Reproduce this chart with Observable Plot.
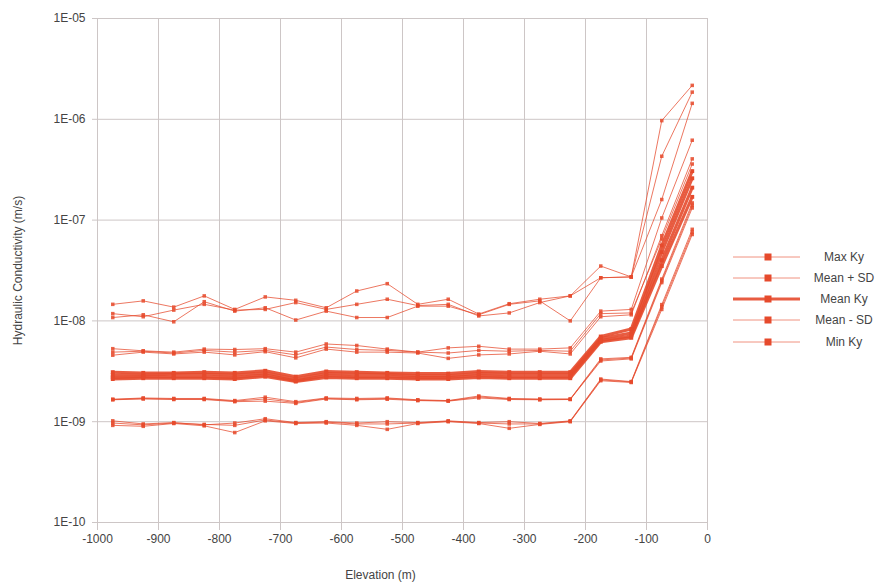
<!DOCTYPE html>
<html><head><meta charset="utf-8">
<script src="https://cdn.jsdelivr.net/npm/d3@7"></script>
<script src="https://cdn.jsdelivr.net/npm/@observablehq/plot@0.6"></script>
<style>
body{margin:0;background:#fff;font-family:"Liberation Sans",Arial,sans-serif;}
#wrap{position:relative;width:881px;height:586px;overflow:hidden;}
#legend{position:absolute;left:733px;top:246px;}
</style></head><body><div id="wrap"><div id="chart"></div><div id="legend"></div></div>
<script>
// Elevation (m) of each sample point
const elevation = [-975,-925,-875,-825,-775,-725,-675,-625,-575,-525,-475,-425,-375,-325,-275,-225,-175,-125,-75,-25];

// Max Ky lines
const maxKy1 = [1.46e-8,1.58e-8,1.37e-8,1.77e-8,1.3e-8,1.73e-8,1.6e-8,1.35e-8,1.98e-8,2.34e-8,1.46e-8,1.64e-8,1.17e-8,1.48e-8,1.64e-8,1.77e-8,3.5e-8,2.73e-8,9.7e-7,2.17e-6];
const maxKy2 = [1.18e-8,1.1e-8,1.28e-8,1.46e-8,1.28e-8,1.3e-8,1.52e-8,1.3e-8,1.46e-8,1.64e-8,1.42e-8,1.46e-8,1.12e-8,1.2e-8,1.52e-8,1.77e-8,2.68e-8,2.73e-8,4.3e-7,1.86e-6];
const maxKy3 = [1.08e-8,1.15e-8,0.98e-8,1.55e-8,1.25e-8,1.35e-8,1.02e-8,1.25e-8,1.08e-8,1.08e-8,1.4e-8,1.4e-8,1.15e-8,1.46e-8,1.58e-8,1.0e-8,2.68e-8,2.73e-8,1.6e-7,1.44e-6];

// Mean + SD lines
const meanPlusSD1 = [5.3e-9,5.05e-9,4.9e-9,5.25e-9,5.2e-9,5.3e-9,4.9e-9,5.9e-9,5.7e-9,5.25e-9,4.9e-9,5.4e-9,5.6e-9,5.25e-9,5.25e-9,5.4e-9,1.25e-8,1.3e-8,1.05e-7,6.2e-7];
const meanPlusSD2 = [4.57e-9,4.9e-9,4.7e-9,4.9e-9,4.6e-9,4.95e-9,4.3e-9,5.25e-9,4.9e-9,4.9e-9,4.8e-9,4.25e-9,4.6e-9,4.7e-9,5.0e-9,4.7e-9,1.1e-8,1.15e-8,7.0e-8,4.05e-7];
const meanPlusSD3 = [4.9e-9,5.0e-9,4.8e-9,5.1e-9,4.9e-9,5.1e-9,4.6e-9,5.5e-9,5.2e-9,5.1e-9,4.9e-9,4.8e-9,5.1e-9,5.0e-9,5.1e-9,5.0e-9,1.18e-8,1.2e-8,6.5e-8,3.6e-7];

// Mean Ky lines
const meanKy1 = [3.1e-9,3.05e-9,3.05e-9,3.1e-9,3.05e-9,3.2e-9,2.8e-9,3.15e-9,3.1e-9,3.05e-9,3.0e-9,3.0e-9,3.15e-9,3.1e-9,3.1e-9,3.1e-9,7.0e-9,8.3e-9,5.6e-8,3.06e-7];
const meanKy2 = [2.9e-9,2.9e-9,2.95e-9,2.95e-9,2.9e-9,3.05e-9,2.65e-9,3.0e-9,2.95e-9,2.95e-9,2.85e-9,2.85e-9,3.0e-9,2.95e-9,2.95e-9,2.95e-9,6.7e-9,7.6e-9,4.8e-8,2.6e-7];
const meanKy3 = [2.75e-9,2.8e-9,2.8e-9,2.8e-9,2.75e-9,2.9e-9,2.55e-9,2.85e-9,2.8e-9,2.8e-9,2.75e-9,2.75e-9,2.85e-9,2.8e-9,2.8e-9,2.8e-9,6.4e-9,7.1e-9,4.0e-8,2.1e-7];
const meanKy4 = [2.65e-9,2.7e-9,2.7e-9,2.7e-9,2.65e-9,2.8e-9,2.5e-9,2.75e-9,2.7e-9,2.7e-9,2.65e-9,2.65e-9,2.75e-9,2.7e-9,2.7e-9,2.7e-9,6.2e-9,6.8e-9,3.5e-8,1.7e-7];

// Mean - SD lines
const meanMinusSD1 = [1.67e-9,1.72e-9,1.7e-9,1.7e-9,1.62e-9,1.75e-9,1.58e-9,1.72e-9,1.7e-9,1.72e-9,1.65e-9,1.62e-9,1.8e-9,1.7e-9,1.68e-9,1.68e-9,4.2e-9,4.35e-9,2.6e-8,1.48e-7];
const meanMinusSD2 = [1.65e-9,1.68e-9,1.66e-9,1.66e-9,1.58e-9,1.6e-9,1.52e-9,1.68e-9,1.65e-9,1.67e-9,1.62e-9,1.6e-9,1.72e-9,1.66e-9,1.65e-9,1.66e-9,4.0e-9,4.2e-9,2.4e-8,1.32e-7];
const meanMinusSD3 = [1.66e-9,1.7e-9,1.68e-9,1.68e-9,1.6e-9,1.68e-9,1.55e-9,1.7e-9,1.67e-9,1.7e-9,1.63e-9,1.61e-9,1.76e-9,1.68e-9,1.66e-9,1.67e-9,4.1e-9,4.28e-9,2.5e-8,1.4e-7];

// Min Ky lines
const minKy1 = [1.02e-9,0.95e-9,0.98e-9,0.93e-9,0.97e-9,1.07e-9,0.98e-9,1.0e-9,0.97e-9,1.0e-9,0.98e-9,1.02e-9,0.98e-9,1.0e-9,0.96e-9,1.02e-9,2.65e-9,2.5e-9,1.45e-8,8.1e-8];
const minKy2 = [0.92e-9,0.9e-9,0.96e-9,0.91e-9,0.78e-9,1.02e-9,0.96e-9,0.97e-9,0.92e-9,0.84e-9,0.96e-9,1.0e-9,0.96e-9,0.86e-9,0.94e-9,1.0e-9,2.55e-9,2.45e-9,1.3e-8,7.2e-8];
const minKy3 = [0.97e-9,0.93e-9,0.97e-9,0.94e-9,0.92e-9,1.04e-9,0.97e-9,0.99e-9,0.95e-9,0.95e-9,0.97e-9,1.01e-9,0.97e-9,0.95e-9,0.95e-9,1.01e-9,2.6e-9,2.48e-9,1.38e-8,7.6e-8];

// Legend labels and ticks
const legendLabels = ["Max Ky", "Mean + SD", "Mean Ky", "Mean - SD", "Min Ky"];
const xTicks = [-1000,-900,-800,-700,-600,-500,-400,-300,-200,-100,0];
const yTicks = [1e-10,1e-9,1e-8,1e-7,1e-6,1e-5];

const series = [
  ["Max Ky", maxKy1], ["Max Ky", maxKy2], ["Max Ky", maxKy3],
  ["Mean + SD", meanPlusSD1], ["Mean + SD", meanPlusSD2], ["Mean + SD", meanPlusSD3],
  ["Mean - SD", meanMinusSD1], ["Mean - SD", meanMinusSD2], ["Mean - SD", meanMinusSD3],
  ["Min Ky", minKy1], ["Min Ky", minKy2], ["Min Ky", minKy3],
  ["Mean Ky", meanKy1], ["Mean Ky", meanKy2], ["Mean Ky", meanKy3], ["Mean Ky", meanKy4]
];
const rows = series.flatMap(([group, vals], i) => vals.map((v, j) => ({id: i, group, x: elevation[j], y: v})));
const thin = rows.filter(d => d.group !== "Mean Ky");
const thick = rows.filter(d => d.group === "Mean Ky");

const RED = "#e64a2c";
const GRID = "#cdc6c6";
const fmtY = d => { const e = Math.round(Math.log10(d)); return "1E" + (e < 0 ? "-" : "+") + String(Math.abs(e)).padStart(2, "0"); };

const chart = Plot.plot({
  width: 881, height: 586,
  marginLeft: 97, marginRight: 174, marginTop: 18, marginBottom: 64,
  style: {fontFamily: "'Liberation Sans', Arial, sans-serif", fontSize: "12px", background: "white", overflow: "visible"},
  x: {domain: [-1000, 0], label: null},
  y: {type: "log", domain: [1e-10, 1e-5], label: null},
  marks: [
    Plot.gridX(xTicks, {stroke: GRID, strokeOpacity: 1}),
    Plot.gridY(yTicks, {stroke: GRID, strokeOpacity: 1}),
    Plot.axisX({ticks: xTicks, tickSize: 8, tickPadding: 4, stroke: GRID, fill: "#444", label: null, tickFormat: d => String(d)}),
    Plot.axisY({ticks: yTicks, tickSize: 5, tickPadding: 7, stroke: GRID, fill: "#444", label: null, tickFormat: fmtY}),
    Plot.line(thin, {x: "x", y: "y", z: "id", stroke: RED, strokeWidth: 1, strokeOpacity: 0.75}),
    Plot.dot(thin, {x: "x", y: "y", symbol: "square", r: 2, fill: RED, fillOpacity: 0.85}),
    Plot.line(thick, {x: "x", y: "y", z: "id", stroke: RED, strokeWidth: 3, strokeOpacity: 0.9}),
    Plot.dot(thick, {x: "x", y: "y", symbol: "square", r: 2.2, fill: RED}),
    Plot.text(["Elevation (m)"], {text: d => d, frameAnchor: "bottom", dy: 53, dx: -22, lineAnchor: "middle", fill: "#444", fontSize: 12}),
    Plot.text(["Hydraulic Conductivity (m/s)"], {text: d => d, frameAnchor: "left", dx: -79, rotate: -90, lineAnchor: "middle", textAnchor: "middle", fill: "#444", fontSize: 12})
  ]
});
document.getElementById("chart").appendChild(chart);

// Legend
const lg = d3.select("#legend").append("svg").attr("width", 148).attr("height", 110)
  .style("font-family", "'Liberation Sans', Arial, sans-serif").style("font-size", "12px");
const rowY = [11, 32, 53, 74, 96];
legendLabels.forEach((lab, i) => {
  const g = lg.append("g").attr("transform", `translate(0,${rowY[i]})`);
  const isMean = lab === "Mean Ky";
  g.append("line").attr("x1", 0).attr("x2", 67).attr("y1", 0).attr("y2", 0)
    .attr("stroke", RED).attr("stroke-width", isMean ? 3 : 1).attr("stroke-opacity", isMean ? 0.9 : 0.6);
  g.append("rect").attr("x", 31.5).attr("y", -3.5).attr("width", 7).attr("height", 7).attr("fill", RED);
  g.append("text").attr("x", 111).attr("y", 0).attr("dy", "0.35em").attr("text-anchor", "middle").attr("fill", "#444").text(lab);
});
</script>
</body></html>
